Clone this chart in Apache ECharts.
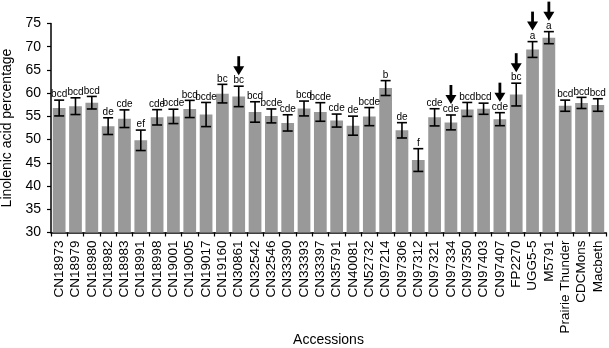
<!DOCTYPE html>
<html>
<head>
<meta charset="utf-8">
<script src="https://cdn.jsdelivr.net/npm/echarts@6/dist/echarts.min.js"></script>
<style>html,body{margin:0;padding:0;background:#fff;}#c{width:609px;height:348px;}</style>
</head>
<body>
<div id="c"></div>
<script>
var categories = ['CN18973','CN18979','CN18980','CN18982','CN18983','CN18991','CN18998','CN19001','CN19005','CN19017','CN19160','CN30861','CN32542','CN32546','CN33390','CN33393','CN33397','CN35791','CN40081','CN52732','CN97214','CN97306','CN97312','CN97321','CN97334','CN97350','CN97403','CN97407','FP2270','UGG5-5','M5791','Prairie Thunder','CDCMons','Macbeth'];
var values = [56.8,57.2,57.95,52.9,54.5,49.85,54.8,55.0,56.6,55.4,59.9,59.3,55.95,55.1,53.6,56.7,55.95,54.1,53.0,54.95,61.1,52.0,45.6,54.8,53.7,56.5,56.65,54.4,59.7,69.4,71.95,57.3,57.9,57.45];
var errors = [1.7,1.8,1.35,1.8,1.9,2.2,1.65,1.55,1.85,2.6,2.0,2.2,2.2,1.5,1.75,1.6,2.0,1.4,2.05,1.95,1.6,1.65,2.45,1.85,1.6,1.5,1.2,1.4,2.45,1.7,1.3,1.2,1.2,1.35];
var letters = ['bcd','bcd','bcd','de','cde','ef','cde','bcde','bcd','bcde','bc','bc','bcd','bcde','cde','bcd','bcde','cde','de','bcde','b','de','f','cde','cde','bcd','bcd','cde','bc','a','a','bcd','bcd','bcd'];
var arrows = [0,0,0,0,0,0,0,0,0,0,0,1,0,0,0,0,0,0,0,0,0,0,0,0,1,0,0,1,1,1,1,0,0,0];
var yTicks = [30,35,40,45,50,55,60,65,70,75];

var chart = echarts.init(document.getElementById('c'), null, {renderer:'canvas'});
var errData = values.map(function(v,i){ return [i, v - errors[i], v + errors[i], arrows[i]]; });

chart.setOption({
  animation:false,
  backgroundColor:'#fff',
  grid:{left:51,right:3,top:23.5,bottom:115.5,containLabel:false,outerBoundsMode:'none'},
  xAxis:{
    type:'category', data:categories,
    name:'Accessions', nameLocation:'middle', nameGap:101, nameMoveOverlap:false,
    nameTextStyle:{fontFamily:'Liberation Sans',fontSize:14,color:'#000'},
    axisLine:{lineStyle:{color:'#000',width:1.5}},
    axisTick:{show:true,length:4,lineStyle:{color:'#000',width:1.2}},
    axisLabel:{rotate:90,interval:0,fontFamily:'Liberation Sans',fontSize:13.5,color:'#000',margin:8}
  },
  yAxis:{
    type:'value', min:yTicks[0], max:yTicks[yTicks.length-1], interval:5,
    name:'Linolenic acid percentage', nameLocation:'middle', nameGap:35, nameRotate:90,
    nameTextStyle:{fontFamily:'Liberation Sans',fontSize:14,color:'#000'},
    axisLine:{show:true,lineStyle:{color:'#000',width:1.5}},
    axisTick:{show:true,length:4,lineStyle:{color:'#000',width:1.2}},
    splitLine:{show:false},
    axisLabel:{fontFamily:'Liberation Sans',fontSize:14,color:'#000',margin:10}
  },
  series:[
    {type:'bar', data:values, barCategoryGap:'22%', itemStyle:{color:'#999999'}, silent:true},
    {type:'custom', data:errData, z:10, silent:true,
     renderItem:function(params, api){
       var i = api.value(0);
       var lo = api.coord([i, api.value(1)]);
       var hi = api.coord([i, api.value(2)]);
       var x = lo[0];
       var cw = 5;
       var st = {stroke:'#000', lineWidth:1.6};
       var children = [
         {type:'line', shape:{x1:x,y1:lo[1],x2:x,y2:hi[1]}, style:st},
         {type:'line', shape:{x1:x-cw,y1:lo[1],x2:x+cw,y2:lo[1]}, style:st},
         {type:'line', shape:{x1:x-cw,y1:hi[1],x2:x+cw,y2:hi[1]}, style:st},
         {type:'text', style:{text:letters[i], x:x, y:hi[1]-0.5, textAlign:'center', textVerticalAlign:'bottom', fontFamily:'Liberation Sans', fontSize:10, fill:'#000'}}
       ];
       if (api.value(3)) {
         var tip = hi[1] - 11;
         children.push({type:'polygon', shape:{points:[[x-5.5,tip-9],[x+5.5,tip-9],[x,tip]]}, style:{fill:'#000'}});
         children.push({type:'rect', shape:{x:x-1.4,y:tip-19,width:2.8,height:11}, style:{fill:'#000'}});
       }
       return {type:'group', children:children};
     }
    }
  ]
});
</script>
</body>
</html>
